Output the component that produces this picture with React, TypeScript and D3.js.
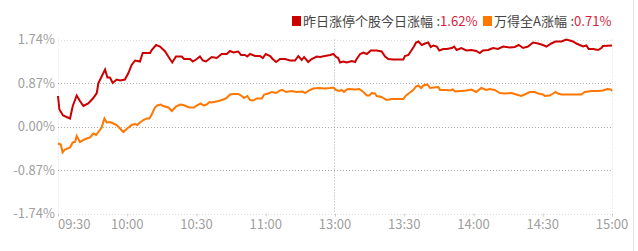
import React from "react";
import * as d3 from "d3";

// minutes since 09:30 (trading minutes, 0..240) and % change
const redMinutes = [0,0.6,2.2,5.2,6.4,8.1,9.5,11.0,13.1,15.3,16.8,17.5,18.9,20.4,21.4,22.5,23.7,25.4,26.9,29.0,30.5,31.9,33.4,35.5,36.7,39.9,40.6,42.5,44.2,46.4,48.2,49.5,51.1,53.6,54.6,57.2,58.4,60.1,61.5,62.7,64.1,66.6,68.8,70.9,73.1,74.5,76.0,78.1,79.3,81.0,82.0,83.2,85.4,87.5,88.7,90.0,91.9,93.0,94.5,96.2,98.4,100.5,102.7,104.1,105.6,106.6,108.4,109.9,112.1,113.5,115.7,117.9,119.3,120.5,121.4,122.2,123.6,125.1,127.3,128.7,129.4,130.9,132.3,133.8,135.5,138.1,140.2,141.7,143.1,145.3,149.6,150.3,151.8,153.2,154.2,155.1,156.1,157.6,159.0,160.4,161.5,162.6,164.1,165.2,166.9,168.4,170.6,171.6,172.7,174.7,176.9,179.1,181.2,182.7,184.1,186.3,188.5,190.6,192.8,195.7,197.9,199.6,201.5,203.6,205.8,208.0,210.1,211.6,213.7,215.5,218.1,220.2,221.7,223.1,224.6,226.0,227.5,228.9,229.9,231.8,234.0,235.4,236.1,240];
const redValues = [0.61,0.34,0.22,0.16,0.41,0.62,0.51,0.41,0.46,0.57,0.67,0.87,1.00,1.14,0.98,0.98,0.87,0.94,0.92,0.94,1.07,1.23,1.32,1.30,1.47,1.47,1.53,1.63,1.60,1.50,1.37,1.28,1.40,1.40,1.35,1.35,1.30,1.35,1.40,1.32,1.30,1.39,1.37,1.45,1.45,1.51,1.48,1.50,1.43,1.43,1.40,1.45,1.41,1.41,1.37,1.45,1.41,1.35,1.29,1.35,1.35,1.32,1.32,1.41,1.33,1.39,1.29,1.35,1.40,1.39,1.41,1.43,1.45,1.39,1.37,1.28,1.30,1.28,1.31,1.29,1.35,1.45,1.48,1.45,1.52,1.52,1.50,1.40,1.35,1.34,1.34,1.41,1.43,1.53,1.60,1.68,1.70,1.63,1.66,1.68,1.59,1.62,1.60,1.52,1.55,1.55,1.57,1.60,1.53,1.57,1.52,1.53,1.51,1.47,1.52,1.53,1.57,1.55,1.60,1.58,1.59,1.63,1.57,1.60,1.68,1.66,1.63,1.60,1.66,1.70,1.70,1.74,1.72,1.70,1.66,1.63,1.60,1.62,1.55,1.55,1.53,1.57,1.61,1.62];

const orangeMinutes = [0,1.2,2.0,3.0,5.2,6.4,7.4,8.1,8.8,9.5,11.0,12.4,13.9,15.3,16.5,17.5,18.9,20.1,21.1,22.5,24.0,25.4,26.9,28.3,30.0,31.9,33.4,34.4,35.5,37.0,38.4,39.6,40.6,42.0,43.0,44.5,45.6,47.8,49.3,51.1,52.9,54.3,56.9,58.9,60.1,61.8,63.0,64.4,65.6,66.6,69.5,71.6,73.1,74.5,76.0,78.1,79.6,80.6,82.0,83.2,84.6,86.1,88.3,89.3,91.1,92.6,94.5,96.2,97.4,98.8,101.3,103.4,106.0,107.0,109.2,110.6,112.8,115.7,117.9,119.3,120.5,121.9,122.9,123.9,125.1,126.2,128.7,130.5,132.3,133.8,134.9,135.9,137.3,138.1,140.2,141.2,142.4,144.6,149.6,150.8,152.2,153.9,155.1,156.1,157.3,158.3,160.0,161.2,162.9,164.8,165.5,168.4,169.8,171.0,172.0,174.7,176.9,179.1,181.2,183.4,185.6,187.0,189.2,191.4,193.5,196.4,198.6,200.7,202.2,204.4,206.5,208.0,210.1,210.9,213.0,214.5,215.5,216.6,218.1,226.7,228.2,231.1,234.0,236.1,238.0,239.5,240];
const orangeValues = [-0.34,-0.36,-0.52,-0.46,-0.42,-0.32,-0.31,-0.19,-0.25,-0.31,-0.27,-0.24,-0.22,-0.14,-0.17,-0.11,-0.02,0.16,0.08,0.09,0.06,0.03,-0.04,-0.11,-0.04,0.03,0.05,0.03,0.08,0.13,0.16,0.16,0.24,0.38,0.42,0.44,0.41,0.38,0.31,0.40,0.44,0.43,0.38,0.38,0.42,0.46,0.42,0.44,0.49,0.48,0.51,0.54,0.57,0.64,0.65,0.65,0.61,0.57,0.61,0.53,0.52,0.56,0.56,0.64,0.66,0.69,0.67,0.72,0.73,0.69,0.71,0.69,0.70,0.67,0.73,0.76,0.77,0.76,0.77,0.78,0.73,0.71,0.73,0.69,0.74,0.75,0.74,0.75,0.69,0.62,0.62,0.67,0.66,0.61,0.59,0.56,0.53,0.55,0.55,0.62,0.67,0.73,0.80,0.82,0.77,0.82,0.84,0.77,0.78,0.79,0.73,0.73,0.72,0.74,0.70,0.71,0.72,0.74,0.69,0.77,0.73,0.75,0.73,0.67,0.66,0.67,0.64,0.61,0.64,0.69,0.69,0.66,0.64,0.61,0.62,0.66,0.69,0.66,0.64,0.64,0.69,0.71,0.71,0.72,0.75,0.74,0.71];

const yTicks = [1.74, 0.87, 0, -0.87, -1.74];
const xTickMinutes = [0, 30, 60, 90, 120, 150, 180, 210, 240];
const xTickLabels = ["09:30", "10:00", "10:30", "11:00", "13:00", "13:30", "14:00", "14:30", "15:00"];

const legendNames = ["昨日涨停个股今日涨幅", "万得全A涨幅"];
const legendValues = ["1.62%", "0.71%"];

const W = 638, H = 251;
const left = 58, right = 612, top = 39.5, bottom = 213.5;
const RED = "#cc0000";
const ORANGE = "#ff7700";
const VALUE_RED = "#d81e3c";
const FONT = "'Noto Sans CJK SC', 'Noto Sans', sans-serif";

export default function App() {
  const x = d3.scaleLinear().domain([0, 240]).range([left, right]);
  const y = d3.scaleLinear().domain([-1.74, 1.74]).range([bottom, top]);
  const line = d3.line<[number, number]>().x(d => x(d[0])).y(d => y(d[1]));
  const redData = redMinutes.map((m, i) => [m, redValues[i]] as [number, number]);
  const orangeData = orangeMinutes.map((m, i) => [m, orangeValues[i]] as [number, number]);

  return (
    <svg width={W} height={H} style={{ position: "absolute", left: 0, top: 0, background: "#fff" }} fontFamily={FONT}>
      <line x1={633.5} x2={633.5} y1={0} y2={H} stroke="#e2e2e2" />
      {/* frame */}
      <line x1={left + 0.5} x2={left + 0.5} y1={top} y2={bottom} stroke="#ddd" strokeDasharray="1,2" />
      <line x1={right + 0.5} x2={right + 0.5} y1={top} y2={bottom} stroke="#ddd" strokeDasharray="1,2" />
      {yTicks.map((t, i) => {
        const edge = i === 0 || i === yTicks.length - 1;
        return (
          <g key={t}>
            <line x1={left} x2={right} y1={Math.round(y(t)) + 0.5} y2={Math.round(y(t)) + 0.5}
              stroke={edge ? "#ddd" : "#aaa"} strokeDasharray="1,2" />
            <text x={55} y={y(t)} dy="0.36em" textAnchor="end" fontSize={13} fill="#a0a0a0">
              {t.toFixed(2) + "%"}
            </text>
          </g>
        );
      })}
      <line x1={x(120) - 0.5} x2={x(120) - 0.5} y1={top} y2={bottom} stroke="#aaa" strokeDasharray="1,2" />
      {xTickMinutes.map((m, i) => (
        <g key={m}>
          <line x1={x(m) + 0.5} x2={x(m) + 0.5} y1={bottom} y2={bottom + 3} stroke="#ccc" />
          <text x={i === 0 ? left : x(m)} y={228.5} textAnchor={i === 0 ? "start" : "middle"}
            fontSize={13} fill="#a0a0a0">
            {xTickLabels[i]}
          </text>
        </g>
      ))}
      <path d={line(redData) || ""} fill="none" stroke={RED} strokeWidth={2} />
      <path d={line(orangeData) || ""} fill="none" stroke={ORANGE} strokeWidth={2} />
      {/* legend */}
      <rect x={292} y={16} width={9} height={10} fill={RED} />
      <text x={303} y={25.5} fontSize={13} fill="#444">{legendNames[0]}</text>
      <text x={436.5} y={25.5} fontSize={13} fill="#444">:</text>
      <text x={440} y={25.5} fontSize={13} fill={VALUE_RED} textLength={37.5} lengthAdjust="spacingAndGlyphs">
        {legendValues[0]}
      </text>
      <rect x={483} y={16} width={9} height={10} fill={ORANGE} />
      <text x={494} y={25.5} fontSize={13} fill="#444">{legendNames[1]}</text>
      <text x={570.5} y={25.5} fontSize={13} fill="#444">:</text>
      <text x={574} y={25.5} fontSize={13} fill={VALUE_RED} textLength={37.5} lengthAdjust="spacingAndGlyphs">
        {legendValues[1]}
      </text>
    </svg>
  );
}
